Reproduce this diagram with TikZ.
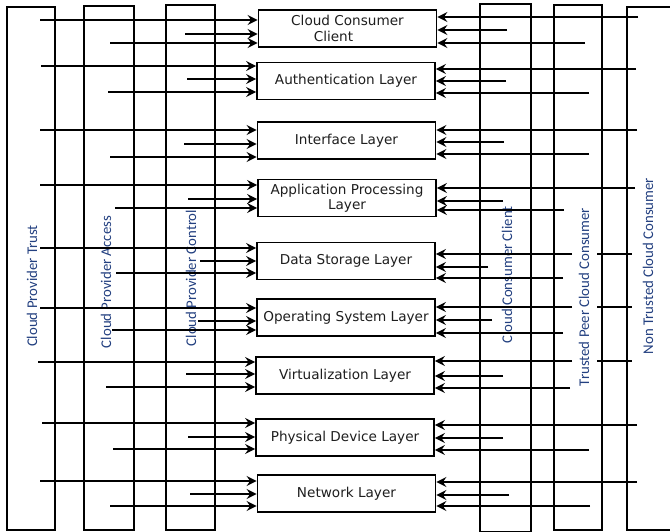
\documentclass[tikz,border=0pt]{standalone}
\usepackage{fontspec}
\setmainfont{DejaVu Sans}
\newfontfamily\lblfont{Carlito}
\usetikzlibrary{arrows.meta}
\definecolor{lblcol}{RGB}{35,64,128}
\definecolor{txtcol}{RGB}{30,30,30}
\begin{document}
\begin{tikzpicture}[x=1pt,y=-1pt,
  colrect/.style={line width=1.8pt},
  box/.style={draw,line width=1.8pt,fill=white,minimum width=178pt,minimum height=37pt,inner sep=0pt,
    font=\fontsize{13.6}{15.5}\selectfont,text=txtcol,align=center},
  arr/.style={line width=1.4pt,-{Stealth[length=10pt,width=10pt,inset=3.5pt]}},
  seg/.style={line width=1.4pt},
  lbl/.style={rotate=90,text=lblcol,font=\lblfont\fontsize{14.8}{17}\selectfont,inner sep=0pt}]
\useasboundingbox (0,0) rectangle (670,531);

% columns
\draw[colrect] (7,7) rectangle (55,530);
\draw[colrect] (84,6) rectangle (134,530);
\draw[colrect] (166,5) rectangle (215,530);
\draw[colrect] (480,4) rectangle (531,532);
\draw[colrect] (554,5) rectangle (602,530);
\draw[colrect] (675,7) -- (627,7) -- (627,530) -- (675,530);

% column labels
\node[lbl] (l1) at (32,286) {Cloud Provider Trust};
\node[lbl] (l2) at (106,282) {Cloud Provider Access};
\node[lbl] (l3) at (191,278) {Cloud Provider Control};
\node[lbl] (l4) at (507,275) {Cloud Consumer Client};
\node[lbl] (l5) at (584,297) {Trusted Peer Cloud Consumer};
\node[lbl] (l6) at (648,266) {Non Trusted Cloud Consumer};

% layer boxes
\node[box] (b1) at (347.5,28.5) {Cloud Consumer\\Client\hspace*{28pt}};
\node[box] (b2) at (346,81) {Authentication Layer};
\node[box] (b3) at (346.5,140.5) {Interface Layer};
\node[box] (b4) at (347,198) {Application Processing\\Layer};
\node[box] (b5) at (346,261) {Data Storage Layer};
\node[box] (b6) at (346,317.5) {Operating System Layer};
\node[box] (b7) at (345,375.5) {Virtualization Layer};
\node[box] (b8) at (345,437.5) {Physical Device Layer};
\node[box] (b9) at (346.5,493.5) {Network Layer};

% arrows from the left
\foreach \i/\y/\xs in {1/20/40, 1/34/185, 1/43/110,
                       2/66/41, 2/79/187, 2/92/108,
                       3/130/40, 3/144/184, 3/157/110,
                       4/185/40, 4/199/188, 4/208/115,
                       5/248/40, 5/261/200, 5/273/116,
                       6/308/40, 6/321/198, 6/330/112,
                       7/362/38, 7/374/186, 7/387/106,
                       8/423/42, 8/437/188, 8/449/113,
                       9/481/40, 9/494/190, 9/506/110}
  \draw[arr] (\xs,\y) coordinate (s) -- (b\i.west |- s);

% arrows from the right
\foreach \i/\y/\xs in {1/17/638, 1/30/507, 1/43/585,
                       2/69/636, 2/81/506, 2/93/589,
                       3/130/637, 3/142/504, 3/154/589,
                       4/188/635, 4/201/503, 4/210/564,
                       5/254/572, 5/267/488, 5/278/563,
                       6/307/572, 6/320/492, 6/333/563,
                       7/361/572, 7/376/503, 7/388/570,
                       8/425/637, 8/438/503, 8/450/589,
                       9/482/637, 9/495/509, 9/506/590}
  \draw[arr] (\xs,\y) coordinate (s) -- (b\i.east |- s);

% short line pieces beyond the label gap
\foreach \y in {254,307,361}
  \draw[seg] (597,\y) coordinate (p) -- (632,\y);
\end{tikzpicture}
\end{document}
